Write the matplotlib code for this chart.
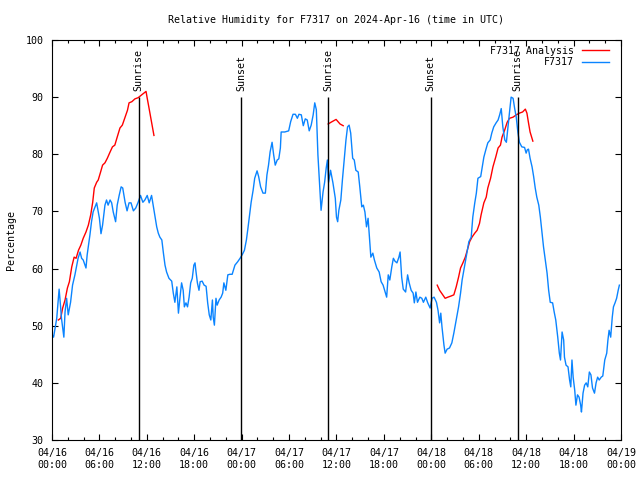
import numpy as np
import pandas as pd
import matplotlib
matplotlib.use("Agg")
import matplotlib.pyplot as plt
import matplotlib.dates as mdates

plt.rcParams['font.family'] = ['DejaVu Sans Mono']
plt.rcParams['font.size'] = 7.2

start = pd.Timestamp("2024-04-16 00:00")

# observed relative humidity (hours after start, percent)
obs_hours = [0.0, 0.2, 0.6, 0.9, 1.0, 1.2, 1.5, 1.65, 1.85, 2.05, 2.35, 2.6, 2.9, 3.3, 3.55,
             3.75, 3.95, 4.3, 4.45, 4.8, 5.0, 5.2, 5.45, 5.65, 6.0, 6.2, 6.4, 6.7, 6.9, 7.1,
             7.35, 7.55, 7.75, 8.05, 8.25, 8.5, 8.75, 8.95, 9.25, 9.5, 9.75, 10.0, 10.3, 10.6,
             10.9, 11.2, 11.5, 11.75, 12.05, 12.3, 12.6, 12.8, 13.05, 13.25, 13.45, 13.65, 13.9,
             14.1, 14.3, 14.5, 14.8, 15.15, 15.35, 15.55, 15.8, 16.0, 16.2, 16.4, 16.6, 16.75,
             16.95, 17.15, 17.35, 17.55, 17.75, 17.95, 18.1, 18.2, 18.4, 18.6, 18.75, 19.0,
             19.25, 19.5, 19.7, 19.9, 20.1, 20.3, 20.4, 20.55, 20.75, 20.9, 21.15, 21.4, 21.6,
             21.75, 22.0, 22.25, 22.5, 22.8, 23.15, 23.5, 23.8, 24.1, 24.35, 24.6, 24.8, 25.0,
             25.2, 25.45, 25.65, 25.95, 26.15, 26.4, 26.7, 27.0, 27.2, 27.4, 27.6, 27.85, 28.05,
             28.25, 28.5, 28.7, 28.9, 29.0, 29.45, 29.95, 30.2, 30.5, 30.8, 31.05, 31.25, 31.55,
             31.8, 32.05, 32.3, 32.55, 32.8, 33.05, 33.25, 33.45, 33.65, 33.85, 34.05, 34.3,
             34.5, 34.7, 34.85, 35.0, 35.25, 35.55, 35.85, 36.0, 36.15, 36.3, 36.55, 36.75,
             37.0, 37.2, 37.4, 37.6, 37.8, 38.05, 38.25, 38.45, 38.75, 38.95, 39.2, 39.4, 39.6,
             39.8, 40.0, 40.25, 40.35, 40.6, 40.8, 41.1, 41.4, 41.65, 41.9, 42.15, 42.35, 42.55,
             42.75, 43.0, 43.2, 43.4, 43.65, 43.9, 44.05, 44.25, 44.45, 44.75, 45.0, 45.2, 45.45,
             45.7, 45.85, 46.05, 46.25, 46.55, 46.8, 47.0, 47.3, 47.55, 47.85, 48.1, 48.35,
             48.65, 48.85, 49.05, 49.2, 49.35, 49.6, 49.75, 50.0, 50.3, 50.6, 50.85, 51.15,
             51.45, 51.7, 51.9, 52.2, 52.5, 52.75, 53.05, 53.25, 53.5, 53.7, 53.9, 54.25, 54.45,
             54.65, 54.9, 55.15, 55.45, 55.65, 55.9, 56.2, 56.45, 56.65, 56.85, 57.05, 57.3,
             57.5, 57.7, 57.9, 58.1, 58.35, 58.55, 58.75, 58.95, 59.15, 59.45, 59.8, 60.0,
             60.15, 60.3, 60.5, 60.75, 60.95, 61.15, 61.35, 61.6, 61.8, 62.0, 62.2, 62.4, 62.65,
             62.85, 63.05, 63.35, 63.55, 63.75, 64.0, 64.2, 64.35, 64.55, 64.75, 64.85, 65.05,
             65.3, 65.5, 65.65, 65.8, 65.95, 66.15, 66.3, 66.5, 66.7, 66.9, 67.0, 67.2, 67.4,
             67.6, 67.8, 68.0, 68.2, 68.4, 68.65, 68.85, 69.05, 69.25, 69.5, 69.7, 69.95, 70.2,
             70.35, 70.5, 70.7, 70.9, 71.05, 71.25, 71.45, 71.65, 71.8]
obs_rh = [48.5, 48.0, 51.3, 56.4, 54.8, 51.3, 48.0, 52.4, 54.8, 51.9, 54.1, 57.1, 58.9, 61.8, 62.9,
          61.8, 61.5, 60.1, 62.4, 65.9, 68.2, 69.9, 70.8, 71.5, 68.8, 66.1, 67.6, 71.1, 72.0, 71.1,
          72.0, 71.5, 69.9, 68.2, 71.1, 72.8, 74.3, 74.1, 71.6, 70.1, 71.5, 71.5, 70.1, 70.6,
          71.6, 72.8, 71.6, 72.0, 72.8, 71.5, 72.8, 71.1, 69.0, 67.3, 66.2, 65.5, 65.0,
          62.7, 60.6, 59.4, 58.3, 57.8, 55.7, 54.1, 56.8, 52.2, 55.0, 57.5, 56.2, 53.3,
          54.0, 53.3, 55.0, 57.5, 58.3, 60.6, 61.0, 59.7, 57.5, 56.2, 57.7, 57.8,
          57.1, 56.9, 54.0, 51.9, 51.0, 54.5, 51.5, 50.1, 54.8, 53.6, 54.5, 55.0, 55.7,
          57.5, 56.2, 58.9, 59.0, 59.0, 60.6, 61.2, 61.8, 62.5, 63.2, 65.0, 67.1, 69.4,
          71.6, 73.7, 75.8, 77.1, 76.1, 74.3, 73.2, 73.2, 76.4, 78.1, 80.4, 82.1, 79.9,
          78.1, 79.0, 79.2, 81.1, 83.9, 83.9, 84.1, 85.7, 87.0, 87.0, 86.3, 87.0, 86.9,
          85.0, 86.2, 86.0, 84.1, 85.1, 86.9, 89.0, 87.8, 79.9, 75.1, 70.2, 73.4,
          75.1, 77.6, 79.0, 75.1, 77.2, 75.0, 72.3, 69.0, 68.2, 70.2, 72.0, 75.5,
          79.5, 82.5, 84.8, 85.1, 83.7, 79.3, 79.0, 77.2, 76.9, 74.3, 70.8, 71.1, 69.9,
          67.3, 68.8, 63.8, 62.0, 62.7, 61.5, 60.1, 59.4, 57.7, 57.1, 55.9, 55.0, 58.9,
          58.0, 60.3, 61.8, 61.3, 61.0, 62.0, 62.9, 58.5, 56.4, 55.9, 58.9, 57.5, 56.2,
          55.7, 54.0, 55.9, 54.1, 55.0, 54.8, 54.1, 55.0, 54.0, 53.1, 54.8, 55.0,
          54.1, 52.7, 50.5, 52.2, 49.8, 46.6, 45.2, 45.9, 46.1, 47.0, 48.7, 51.0,
          53.3, 55.7, 58.0, 60.3, 62.7, 64.7, 65.5, 69.0, 71.5, 73.2, 75.8, 76.1, 77.8,
          79.5, 80.8, 82.0, 82.5, 83.7, 84.8, 85.5, 86.0, 86.9, 88.0, 84.8, 82.5,
          82.1, 84.8, 87.4, 90.0, 89.8, 88.0, 86.5, 83.9, 82.1, 81.3, 81.2, 80.2,
          80.8, 80.9, 79.3, 77.8, 76.1, 74.1, 72.5, 71.1, 69.0, 66.4, 63.8, 61.8, 59.2,
          56.2, 54.1, 54.0, 52.4, 51.0, 48.0, 45.2, 44.0, 48.9, 47.5, 44.5, 43.1,
          42.8, 40.5, 39.3, 44.0, 41.0, 38.7, 36.1, 37.9, 37.5, 36.1, 34.9, 38.2, 39.6,
          40.0, 39.3, 41.9, 41.4, 39.1, 38.2, 40.0, 41.0, 40.5, 41.0, 41.2, 44.0, 45.2,
          47.5, 49.2, 48.0, 51.5, 53.3, 54.0, 54.8, 56.2, 57.1]

# analysis segments (hours after start, percent)
ana1_hours = [0.8, 1.1, 1.35, 1.65, 1.95, 2.2, 2.5, 2.8, 3.05, 3.35, 3.65, 3.95, 4.3, 4.6,
              4.9, 5.15, 5.35, 5.65, 5.85, 6.15, 6.4, 6.7, 7.0, 7.35, 7.65, 7.95, 8.25, 8.6,
              8.9, 9.25, 9.55, 9.75, 10.1, 10.5, 10.9, 11.35, 11.9, 12.05, 12.25, 12.9]
ana1_rh = [51.0, 51.3, 53.1, 54.5, 56.6, 57.7, 60.3, 62.0, 61.8, 63.2, 64.1, 65.3, 66.4, 67.6,
           69.4, 71.6, 74.1, 75.1, 75.5, 76.9, 78.1, 78.5, 79.3, 80.4, 81.3, 81.6, 83.0, 84.6,
           85.1, 86.5, 87.7, 89.0, 89.2, 89.7, 89.9, 90.4, 91.0, 89.8, 88.3, 83.3]
ana2_hours = [34.95, 35.3, 35.95, 36.45, 36.85]
ana2_rh = [85.3, 85.6, 86.1, 85.3, 85.0]
ana3_hours = [48.75, 49.05, 49.45, 49.75, 50.1, 50.5, 50.85, 51.15, 51.45, 51.7, 52.0, 52.3,
              52.55, 52.85, 53.15, 53.5, 53.8, 54.1, 54.3, 54.65, 54.95, 55.15, 55.5, 55.8,
              56.15, 56.45, 56.75, 56.95, 57.3, 57.6, 57.9, 58.35, 58.75, 59.15, 59.55, 59.9,
              60.1, 60.3, 60.5, 60.85]
ana3_rh = [57.1, 56.2, 55.4, 54.8, 55.0, 55.2, 55.4, 56.8, 58.5, 60.1, 61.0, 62.0,
           63.2, 64.7, 65.5, 66.2, 66.7, 67.9, 69.4, 71.5, 72.5, 74.1, 75.8, 77.8,
           79.5, 81.1, 81.6, 83.0, 84.3, 85.6, 86.3, 86.5, 86.9, 87.2, 87.4, 87.9,
           87.2, 85.5, 83.9, 82.3]

sun_times = ["2024-04-16 10:58", "2024-04-16 23:55", "2024-04-17 10:56",
             "2024-04-17 23:56", "2024-04-18 10:55"]
sun_labels = ["Sunrise", "Sunset", "Sunrise", "Sunset", "Sunrise"]


def to_time(hours):
    return start + pd.to_timedelta(np.array(hours), unit="h")


fig = plt.figure(figsize=(6.4, 4.8), dpi=100)
ax = fig.add_axes([0.08125, 0.0833, 0.889, 0.8334])

red = "#ff0000"
blue = "#0a84ff"
ax.plot(to_time(ana1_hours), ana1_rh, color=red, lw=1.0, label="F7317 Analysis")
ax.plot(to_time(ana2_hours), ana2_rh, color=red, lw=1.0)
ax.plot(to_time(ana3_hours), ana3_rh, color=red, lw=1.0)
ax.plot(to_time(obs_hours), obs_rh, color=blue, lw=1.0, label="F7317")

for t, lab in zip(sun_times, sun_labels):
    t = pd.Timestamp(t)
    ax.vlines(t, 30, 90, color="black", lw=1.0)
    ax.text(t, 91, lab, rotation=90, ha="center", va="bottom")

ax.set_xlim(pd.Timestamp("2024-04-16"), pd.Timestamp("2024-04-19"))
ax.set_ylim(30, 100)
ax.set_yticks(np.arange(30, 101, 10))
ax.xaxis.set_major_locator(mdates.HourLocator(byhour=[0, 6, 12, 18]))
ax.xaxis.set_minor_locator(mdates.HourLocator(interval=2))
ax.xaxis.set_major_formatter(mdates.DateFormatter("%m/%d\n%H:%M"))
ax.tick_params(which="both", direction="in", top=True, right=True, width=0.8)
ax.tick_params(which="major", length=4.5, pad=6)
ax.tick_params(which="minor", length=2.5)
for s in ax.spines.values():
    s.set_linewidth(0.8)

ax.set_ylabel("Percentage", labelpad=7)
ax.set_title("Relative Humidity for F7317 on 2024-Apr-16 (time in UTC)",
             fontsize=7.2, pad=12)
ax.legend(loc="upper right", bbox_to_anchor=(0.986, 0.995), frameon=False,
          markerfirst=False, handlelength=2.7, borderaxespad=0.0,
          labelspacing=0.15, handletextpad=0.8)

fig.savefig("out.png", dpi=100)
